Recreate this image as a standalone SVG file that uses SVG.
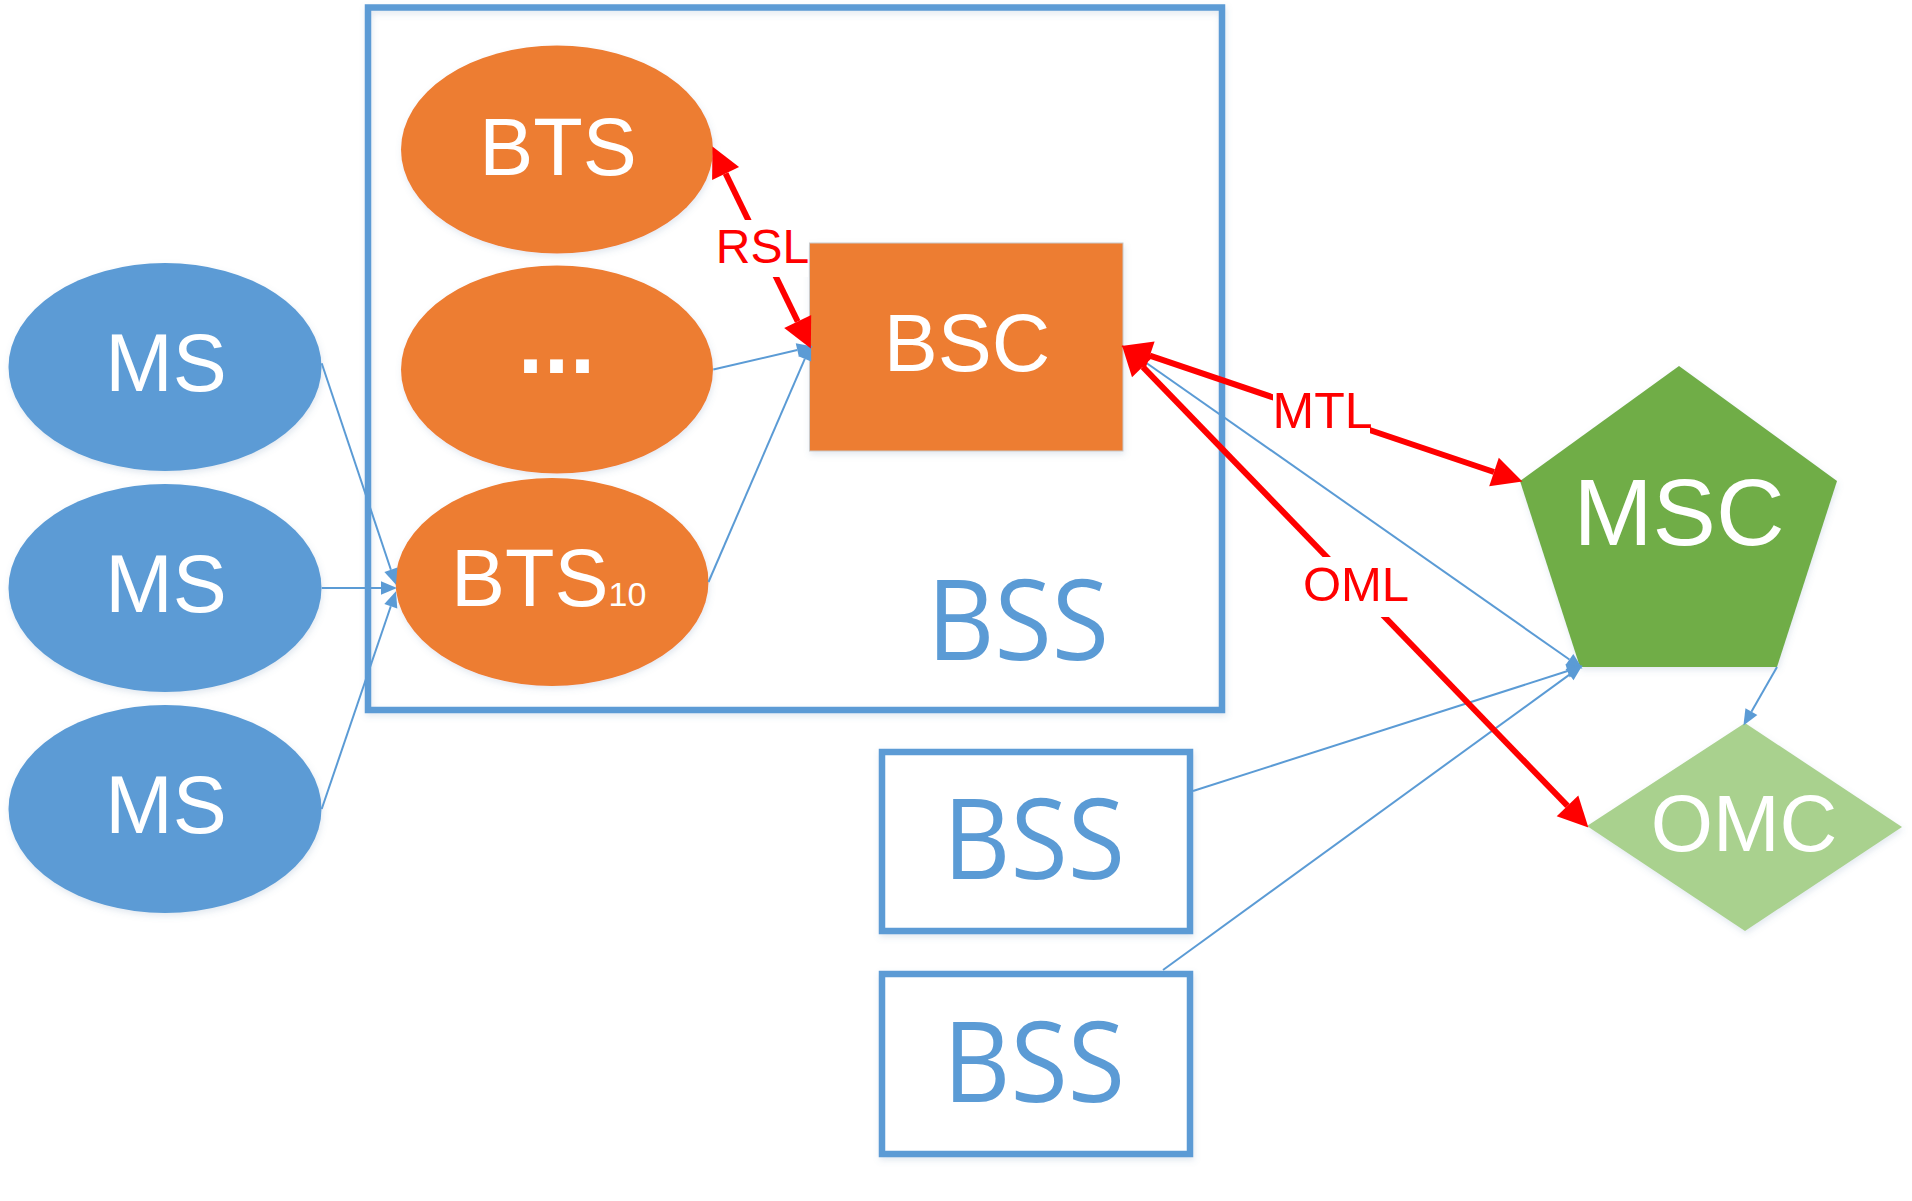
<svg xmlns="http://www.w3.org/2000/svg" width="1912" height="1201" viewBox="0 0 1912 1201">
<defs>
<style>
.lbl{font-family:"Liberation Sans",Arial,sans-serif;fill:#fff;text-anchor:middle}
.red{font-family:"Liberation Sans",Arial,sans-serif;fill:#FF0000;text-anchor:middle}
.bss{font-family:"Open Sans","Noto Sans",sans-serif;fill:#5B9BD5;text-anchor:middle}
.box{fill:#fff;stroke:#5B9BD5;stroke-width:6.5}
.ms{fill:#5B9BD5}
.bts{fill:#ED7D31}
.thin{fill:none;stroke:#5B9BD5;stroke-width:2;marker-end:url(#ab)}
.thick{fill:none;stroke:#FF0000;stroke-width:6;marker-start:url(#ar);marker-end:url(#ar)}
</style>
<filter id="sh" x="-10%" y="-10%" width="120%" height="130%">
<feDropShadow dx="1" dy="3" stdDeviation="3" flood-color="#5B7FA8" flood-opacity="0.18"/>
</filter>
<marker id="ab" markerUnits="userSpaceOnUse" markerWidth="16" markerHeight="14" refX="0" refY="6" orient="auto" viewBox="0 0 14 12" overflow="visible">
<path d="M0,0 L14,6 L0,12 z" fill="#5B9BD5"/>
</marker>
<marker id="ar" markerUnits="userSpaceOnUse" markerWidth="30" markerHeight="30" refX="0" refY="14" orient="auto-start-reverse" viewBox="0 0 28 28" overflow="visible">
<path d="M0,0 L28,14 L0,28 z" fill="#FF0000"/>
</marker>
</defs>
<rect width="1912" height="1201" fill="#fff"/>

<g id="bss-main">
<rect x="368" y="7.5" width="854" height="702.5" fill="none" stroke="#5B9BD5" stroke-width="6.5" filter="url(#sh)"/>
<text class="bss" x="1018" y="660" font-size="112" textLength="182" lengthAdjust="spacingAndGlyphs">BSS</text>
</g>

<g id="ms1"><ellipse class="ms" cx="165" cy="367" rx="156.5" ry="104" filter="url(#sh)"/><text class="lbl" x="166" y="391" font-size="81">MS</text></g>
<g id="ms2"><ellipse class="ms" cx="165" cy="588" rx="156.5" ry="104" filter="url(#sh)"/><text class="lbl" x="166" y="612" font-size="81">MS</text></g>
<g id="ms3"><ellipse class="ms" cx="165" cy="809" rx="156.5" ry="104" filter="url(#sh)"/><text class="lbl" x="166" y="833" font-size="81">MS</text></g>

<g id="bts1"><ellipse class="bts" cx="557" cy="149.5" rx="156" ry="104" filter="url(#sh)"/><text class="lbl" x="558" y="174.5" font-size="81">BTS</text></g>
<g id="bts-dots"><ellipse class="bts" cx="557" cy="369.5" rx="156" ry="104" filter="url(#sh)"/><text class="lbl" x="557" y="373" font-size="90" font-weight="bold" letter-spacing="1">...</text></g>
<g id="bts10"><ellipse class="bts" cx="552" cy="582" rx="156.5" ry="104" filter="url(#sh)"/><text class="lbl" x="451" y="606" font-size="81" style="text-anchor:start">BTS<tspan font-size="34">10</tspan></text></g>

<g id="bsc"><rect x="809.5" y="243" width="313.5" height="208" fill="#ED7D31" stroke="#C9C9C9" stroke-width="1" filter="url(#sh)"/><text class="lbl" x="967" y="371" font-size="81">BSC</text></g>

<g id="msc"><polygon points="1679,366 1837,481 1777,667 1580,667 1520,481" fill="#70AD47" filter="url(#sh)"/><text class="lbl" x="1679" y="545" font-size="95">MSC</text></g>

<g id="omc"><polygon points="1745,723 1902,827 1745,931 1587,826" fill="#A9D18E" filter="url(#sh)"/><text class="lbl" x="1744" y="851" font-size="80">OMC</text></g>

<g id="bss2"><rect class="box" x="882" y="752" width="308" height="179" filter="url(#sh)"/><text class="bss" x="1034" y="879" font-size="112" textLength="182" lengthAdjust="spacingAndGlyphs">BSS</text></g>
<g id="bss3"><rect class="box" x="882" y="974" width="308" height="180" filter="url(#sh)"/><text class="bss" x="1034" y="1102" font-size="112" textLength="182" lengthAdjust="spacingAndGlyphs">BSS</text></g>

<g id="connectors">
<path class="thin" d="M321.7,363.3 L390.9,569.7"/>
<path class="thin" d="M321.7,588 L381,588"/>
<path class="thin" d="M321.7,809 L390.8,606.3"/>
<path class="thin" d="M713.3,369.5 L797.3,350"/>
<path class="thin" d="M708.5,582 L804.8,358.9"/>
<path class="thin" d="M1123.3,346.7 L1569.4,659.5"/>
<path class="thin" d="M1193,791 L1567.6,671"/>
<path class="thin" d="M1163,970 L1569.5,674.6"/>
<path class="thin" d="M1777,667 L1751.4,711.7"/>
<path class="thick" d="M725.6,173.5 L797.7,321.5"/>
<path class="thick" d="M1149.8,355.7 L1494,472"/>
<path class="thick" d="M1142.8,366.8 L1567.5,805.9"/>
<rect x="714" y="220" width="94" height="57" fill="#fff"/>
<text class="red" x="762.5" y="263" font-size="48">RSL</text>
<rect x="1273" y="386" width="97" height="52" fill="#fff"/>
<text class="red" x="1322.5" y="428" font-size="50">MTL</text>
<rect x="1300" y="557" width="112" height="60" fill="#fff"/>
<text class="red" x="1356" y="601" font-size="49">OML</text>
</g>
</svg>
